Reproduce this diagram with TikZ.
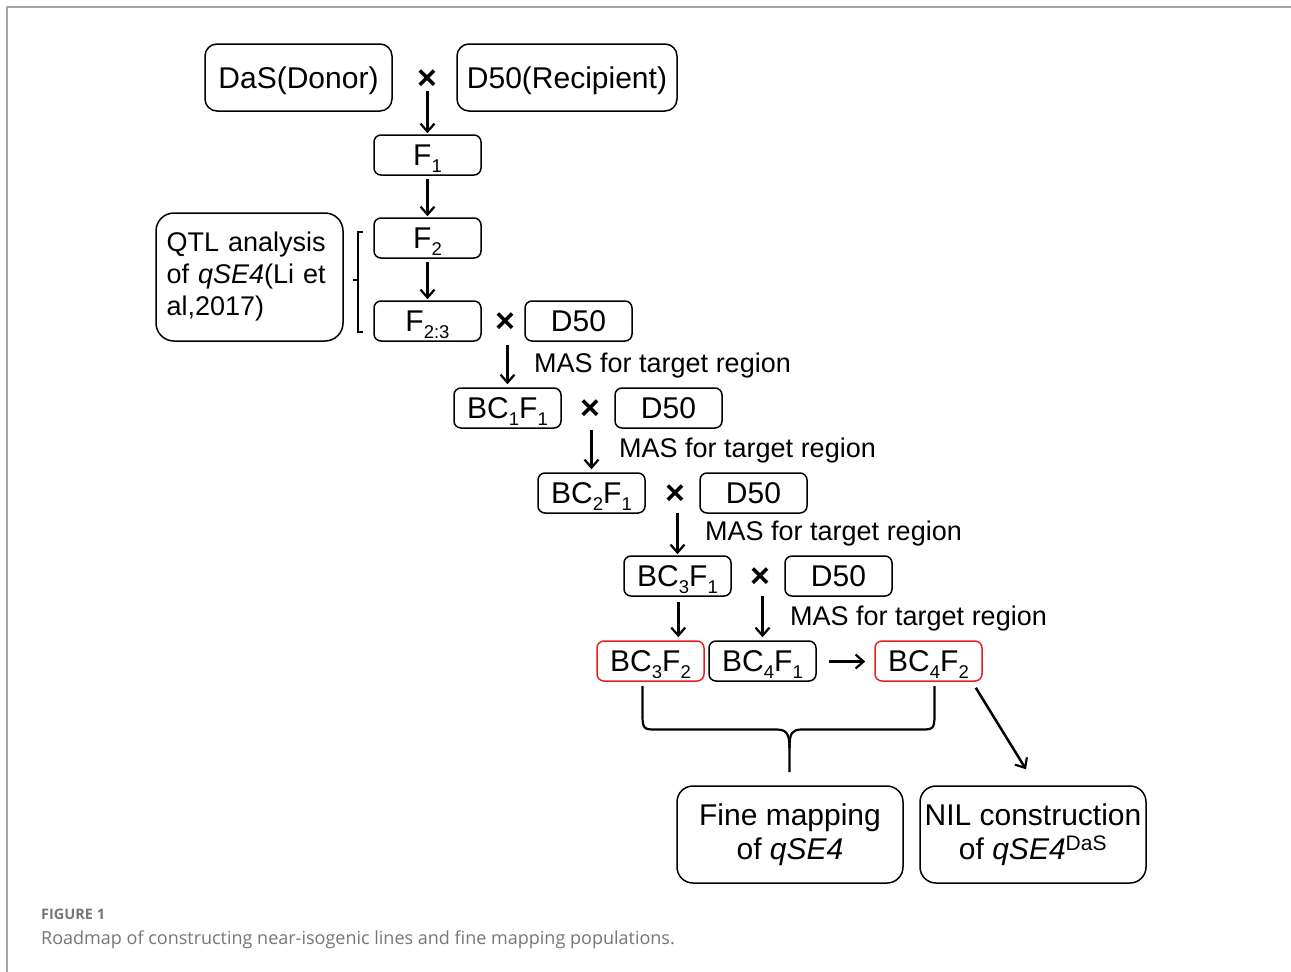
\documentclass[tikz,border=0pt]{standalone}
\usepackage{fontspec}
\setmainfont{Liberation Sans}
\newfontfamily\capfont{Open Sans}
\usetikzlibrary{arrows.meta,calc}
\definecolor{boxred}{RGB}{232,30,36}
\definecolor{capgray}{RGB}{118,118,118}
\newcommand\lsub[1]{\raisebox{-7pt}[0pt][0pt]{\fontsize{18.5}{18.5}\selectfont #1}}
\begin{document}
\begin{tikzpicture}[x=1pt,y=-1pt,
 box/.style={draw, line width=1.5pt, rounded corners=7pt, minimum width=107pt, minimum height=40pt, inner sep=0pt, text height=21.5pt, text depth=0pt, font=\fontsize{30}{36}\selectfont},
 redbox/.style={box, draw=boxred},
 bigbox/.style={draw, line width=1.5pt, rounded corners=16pt, inner sep=0pt, align=center, minimum width=226pt, minimum height=97pt, font=\fontsize{30}{34}\selectfont},
 lab/.style={anchor=west, inner sep=0pt, font=\fontsize{27}{32}\selectfont},
 cross/.style={inner sep=0pt, font=\fontsize{34}{38}\selectfont\bfseries},
 arr/.style={-{Straight Barb[length=8pt,width=14pt,line width=2.2pt]}, line width=2.5pt},
 ln/.style={line width=2.2pt},
]
\useasboundingbox (0,0) rectangle (1291,972);
\draw[gray!70, line width=1.4pt] (7,972) -- (7,7) -- (1291,7);

% top row
\node[box, minimum width=187pt, minimum height=67pt, rounded corners=12pt] (das) at (298.5,77.5) {DaS(Donor)};
\node[box, minimum width=220pt, minimum height=67pt, rounded corners=12pt] (d50r) at (567,77.5) {D50(Recipient)};
\node[cross] (x1) at (427,80) {×};

\node[box] (f1) at (427.5,155) {F\lsub{1}};
\node[box] (f2) at (427.5,238) {F\lsub{2}};
\node[box] (f23) at (427.5,321) {F\lsub{2:3}};
\node[cross] (x2) at (505,323) {×};
\node[box] (d1) at (578.5,321) {D50};

\node[draw, line width=1.5pt, rounded corners=18pt, minimum width=187pt, minimum height=128pt, inner sep=0pt,
      text width=166pt, align=left, font=\fontsize{27}{32}\selectfont] (qtl) at (249.5,277)
      {QTL analysis\\of \textit{qSE4}(Li et\\al,2017)};
\draw[line width=1.4pt] (363,232) -- (358,232) -- (358,332) -- (363,332) (358,280) -- (353,280);

\node[box] (bc1) at (507.5,408) {BC\lsub{1}F\lsub{1}};
\node[cross] (x3) at (590,410) {×};
\node[box] (d2) at (668.5,408) {D50};

\node[box] (bc2) at (591.5,493) {BC\lsub{2}F\lsub{1}};
\node[cross] (x4) at (675,495) {×};
\node[box] (d3) at (753.5,493) {D50};

\node[box] (bc3) at (677.5,576) {BC\lsub{3}F\lsub{1}};
\node[cross] (x5) at (760,578) {×};
\node[box] (d4) at (838.5,576) {D50};

\node[redbox] (bc3f2) at (650.5,661) {BC\lsub{3}F\lsub{2}};
\node[box] (bc4f1) at (762.5,661) {BC\lsub{4}F\lsub{1}};
\node[redbox] (bc4f2) at (928.5,661) {BC\lsub{4}F\lsub{2}};

\node[bigbox] (fine) at (790,834.5) {Fine mapping\\of \textit{qSE4}};
\node[bigbox] (nil) at (1033,834.5) {NIL construction\\of \textit{qSE4}\textsuperscript{DaS}};

% labels
\node[lab] (m1) at (534,366) {MAS for target region};
\node[lab] (m2) at (619,451) {MAS for target region};
\node[lab] (m3) at (705,534) {MAS for target region};
\node[lab] (m4) at (790,619) {MAS for target region};

% arrows
\draw[arr, shorten <=1pt, shorten >=1pt] (x1.south -| f1.north) -- (f1.north);
\draw[arr, shorten <=3pt, shorten >=1pt] (f1.south) -- (f2.north);
\draw[arr, shorten <=3pt, shorten >=1pt] (f2.south) -- (f23.north);
\draw[arr, shorten <=12pt, shorten >=3pt] (x2.south -| bc1.north) -- (bc1.north);
\draw[arr, shorten <=10pt, shorten >=3pt] (x3.south -| bc2.north) -- (bc2.north);
\draw[arr, shorten <=8pt, shorten >=1pt] (x4.south -| bc3.north) -- (bc3.north);
\draw[arr, shorten <=8pt, shorten >=3pt] (x5.south -| bc4f1.north) -- (bc4f1.north);
\draw[arr, shorten <=5pt, shorten >=3pt] ([xshift=0.75pt]bc3.south) -- ([xshift=0.75pt]bc3.south |- bc3f2.north);
\draw[arr, shorten <=12pt, shorten >=9pt] ([yshift=-0.5pt]bc4f1.east) -- ([yshift=-0.5pt]bc4f2.west);
\draw[arr] ($(bc4f2.south east)+(-7,6)$) -- ($(nil.north)+(-7,-16)$);

% brace
\coordinate (bl) at (642.5,686);
\coordinate (br) at (934.5,686);
\coordinate (bt) at (789.5,772);
\draw[ln, line join=round] (bl) -- (642.5,716) .. controls (642.5,729.5) and (645,729.5) .. (656,729.5) -- (776,729.5)
   .. controls (786,729.5) and (789.5,733) .. (789.5,748) -- (bt);
\draw[ln, line join=round] (br) -- (934.5,716) .. controls (934.5,729.5) and (932,729.5) .. (921,729.5) -- (802,729.5)
   .. controls (792,729.5) and (789.5,733) .. (789.5,748);

% caption
\node[anchor=base west, inner sep=0pt, text=capgray, font=\capfont\fontsize{14.5}{16}\selectfont] (figno) at (41,919) {\textbf{FIGURE 1}};
\node[anchor=base west, inner sep=0pt, text=capgray, font=\capfont\fontsize{18}{21}\selectfont] (cap) at (41,944) {Roadmap of constructing near-isogenic lines and fine mapping populations.};
\end{tikzpicture}
\end{document}
